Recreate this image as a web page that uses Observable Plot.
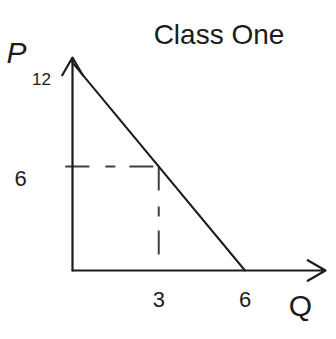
<!DOCTYPE html>
<html>
<head>
<meta charset="utf-8">
<script src="https://cdn.jsdelivr.net/npm/d3@7"></script>
<script src="https://cdn.jsdelivr.net/npm/@observablehq/plot@0.6"></script>
<style>
  html, body { margin: 0; padding: 0; background: #fff; }
  svg { display: block; }
</style>
</head>
<body>
<div id="chart"></div>
<script>
// Linear demand for "Class One": P = 12 - 2Q
const titleText = "Class One";
const demandQ = [0, 6];
const demandP = [12, 0];
// The marked point on the curve
const markQ = 3;
const markP = 6;
// Axis extents (arrow tips) in data units
const qAxisEnd = 8.8;
const pAxisEnd = 12.3;
// Tick labels written beside the axes
const pTopTick = 12;
const pMidTick = 6;
const qTicks = [3, 6];
const pLabel = "P";
const qLabel = "Q";

const ink = "#1c1c1c";
const hand = "'Liberation Sans', 'DejaVu Sans', sans-serif";

const demand = demandQ.map((q, i) => ({q, p: demandP[i]}));
const axes = [
  {x1: 0, y1: 0, x2: 0, y2: pAxisEnd},
  {x1: 0, y1: 0, x2: qAxisEnd, y2: 0}
];
const guides = [
  {x1: -0.25, y1: markP, x2: markQ, y2: markP},
  {x1: markQ, y1: markP, x2: markQ, y2: 0}
];

const chart = Plot.plot({
  width: 336,
  height: 339,
  marginLeft: 72,
  marginRight: 11,
  marginTop: 57,
  marginBottom: 69,
  x: {domain: [0, qAxisEnd], axis: null},
  y: {domain: [0, pAxisEnd], axis: null},
  clip: false,
  style: {fontFamily: hand, color: ink, background: "#fff"},
  marks: [
    // dashed guides to the marked point
    Plot.link(guides, {x1: "x1", y1: "y1", x2: "x2", y2: "y2",
      stroke: ink, strokeWidth: 2, strokeDasharray: "24,16,10,14", strokeOpacity: 0.85}),
    // axes with open arrowheads
    Plot.arrow(axes, {x1: "x1", y1: "y1", x2: "x2", y2: "y2",
      stroke: ink, strokeWidth: 2.2, headLength: 14, bend: 0}),
    // demand curve
    Plot.line(demand, {x: "q", y: "p", stroke: ink, strokeWidth: 2}),
    // P tick labels
    Plot.text([pTopTick], {x: 0, y: d => d, text: d => String(d),
      dx: -31, dy: 17, fontSize: 17, fill: ink}),
    Plot.text([pMidTick], {x: 0, y: d => d, text: d => String(d),
      dx: -52, dy: 12, fontSize: 22, fill: ink}),
    // Q tick labels
    Plot.text(qTicks, {x: d => d, y: 0, text: d => String(d),
      dy: 29, fontSize: 22, fill: ink}),
    // axis names
    Plot.text([pLabel], {x: 0, y: pAxisEnd, text: d => d,
      dx: -56, dy: -4, fontSize: 30, fontStyle: "italic", fill: ink}),
    Plot.text([qLabel], {x: qAxisEnd, y: 0, text: d => d,
      dx: -25, dy: 36, fontSize: 30, fill: ink}),
    // title
    Plot.text([titleText], {frameAnchor: "top", text: d => d,
      dx: 20, dy: -33, fontSize: 28, fill: ink})
  ]
});

document.getElementById("chart").appendChild(chart);
</script>
</body>
</html>
